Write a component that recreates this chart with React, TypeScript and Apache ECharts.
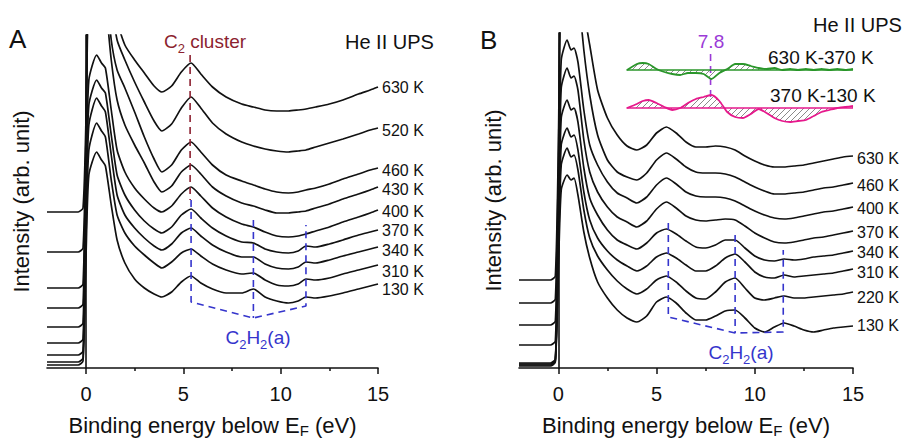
import React, { useEffect, useRef } from 'react';
import * as echarts from 'echarts';

const FONT = '"Liberation Sans", Arial, Helvetica, sans-serif';
const INK = '#111111';

// ---------- Panel A (He II UPS, temperature series) ----------
const ENERGY_A = [-2, -0.4, -0.15, 0, 0.15, 0.55, 0.8, 1.0, 1.3, 1.6, 2.0, 2.5, 3.0, 3.5, 3.9, 4.4, 4.9, 5.4, 5.9, 6.5, 7.2, 8.0, 8.6, 9.2, 9.8, 10.4, 10.9, 11.3, 11.8, 12.5, 13.2, 14.0, 14.6, 15];
const TEMPS_A = ['630 K', '520 K', '460 K', '430 K', '400 K', '370 K', '340 K', '310 K', '130 K'];
const A_630K = [156, 156, 160, 248, 428, 468, 468, 458, 428, 348, 323, 308, 295, 282, 276, 282, 296, 305, 294, 281, 271, 264, 261, 258, 257, 257, 258, 259, 261, 264, 268, 274, 278, 281];
const A_520K = [116, 116, 120, 228, 428, 468, 458, 428, 368, 328, 308, 286, 266, 247, 237, 244, 260, 271, 260, 245, 234, 226, 222, 219, 217, 216, 217, 218, 221, 225, 229, 234, 238, 240];
const A_460K = [80, 80, 84, 218, 408, 438, 428, 388, 328, 298, 280, 256, 231, 209, 196, 203, 218, 226, 216, 203, 193, 187, 183, 179, 176, 175, 176, 178, 180, 184, 189, 194, 198, 200];
const A_430K = [60, 60, 64, 208, 388, 408, 398, 368, 308, 268, 243, 223, 205, 186, 176, 182, 196, 203, 194, 181, 172, 165, 162, 158, 155, 155, 156, 157, 160, 164, 169, 174, 178, 181];
const A_400K = [41, 41, 45, 188, 288, 313, 305, 300, 258, 218, 196, 180, 169, 160, 156, 162, 174, 181, 172, 160, 151, 144, 141, 136, 132, 131, 132, 134, 137, 141, 146, 151, 155, 158];
const A_370K = [25, 25, 29, 168, 263, 288, 280, 275, 233, 193, 173, 158, 147, 139, 135, 141, 153, 159, 150, 140, 132, 126, 125, 119, 116, 115, 117, 122, 121, 124, 128, 133, 136, 138];
const A_340K = [13, 13, 17, 148, 243, 270, 262, 256, 213, 173, 153, 140, 130, 122, 118, 124, 135, 140, 132, 123, 116, 111, 111, 104, 100, 99, 101, 106, 105, 108, 112, 116, 119, 121];
const A_310K = [6, 6, 10, 128, 218, 245, 237, 231, 188, 153, 135, 122, 113, 105, 100, 106, 115, 119, 112, 104, 98, 94, 95, 88, 83, 82, 84, 89, 88, 90, 94, 98, 101, 103];
const A_130K = [3, 3, 7, 108, 193, 216, 208, 202, 163, 128, 105, 89, 80, 74, 71, 76, 86, 92, 85, 79, 75, 75, 79, 71, 67, 65, 67, 71, 70, 72, 75, 79, 82, 84];
const VALUES_A = [A_630K, A_520K, A_460K, A_430K, A_400K, A_370K, A_340K, A_310K, A_130K];
const LABEL_NUDGE_A = [0, 2, 2, 2, 1, 0, 3, 6, 5];

// guides in panel A (binding energy, intensity)
const A_C2_GUIDE = [[5.35, 313], [5.35, 168]];
const A_C2H2_GUIDE = [[5.4, 168], [5.4, 66], [8.6, 50], [11.3, 62], [11.3, 143]];
const A_C2H2_MID = [[8.6, 148], [8.6, 50]];

// ---------- Panel B ----------
const ENERGY_B = [-2, -0.4, -0.15, 0, 0.15, 0.45, 0.65, 0.8, 1.0, 1.3, 1.6, 2.0, 2.5, 3.0, 3.5, 4.0, 4.5, 5.0, 5.5, 6.0, 6.5, 7.0, 7.5, 8.0, 8.5, 9.0, 9.5, 10.0, 10.5, 11.0, 11.5, 12.0, 12.5, 13.0, 13.5, 14.0, 14.5, 15];
const TEMPS_B = ['630 K', '460 K', '400 K', '370 K', '340 K', '310 K', '220 K', '130 K'];
const B_630K = [88, 88, 92, 218, 418, 448, 448, 438, 408, 358, 323, 278, 250, 233, 222, 218, 223, 235, 241, 235, 226, 221, 221, 222, 221, 218, 212, 207, 203, 201, 201, 202, 203, 205, 207, 209, 211, 212];
const B_460K = [65, 65, 69, 198, 398, 428, 423, 413, 378, 318, 273, 233, 208, 196, 191, 188, 195, 208, 215, 209, 201, 196, 195, 195, 194, 191, 186, 181, 177, 174, 174, 175, 176, 178, 180, 181, 183, 185];
const B_400K = [43, 43, 47, 168, 308, 328, 318, 320, 306, 258, 223, 203, 186, 175, 170, 165, 171, 183, 190, 184, 176, 172, 171, 171, 170, 167, 162, 157, 153, 150, 149, 150, 152, 154, 156, 157, 159, 161];
const B_370K = [23, 23, 27, 148, 280, 300, 290, 292, 278, 228, 196, 176, 161, 151, 146, 141, 147, 159, 166, 160, 152, 148, 147, 148, 149, 148, 142, 135, 130, 126, 125, 126, 128, 130, 131, 133, 135, 137];
const B_340K = [5, 5, 9, 128, 250, 268, 258, 260, 246, 200, 170, 153, 138, 128, 123, 119, 125, 135, 139, 134, 127, 121, 120, 123, 128, 128, 120, 112, 108, 107, 109, 108, 109, 111, 112, 113, 115, 117];
const B_310K = [4, 4, 8, 118, 223, 240, 231, 233, 218, 176, 148, 130, 117, 108, 102, 97, 102, 111, 115, 110, 103, 97, 97, 102, 110, 114, 106, 96, 91, 90, 93, 91, 92, 93, 94, 95, 97, 99];
const B_220K = [3, 3, 7, 108, 203, 220, 211, 213, 198, 158, 130, 112, 98, 87, 79, 74, 79, 88, 92, 86, 77, 70, 69, 76, 86, 90, 80, 70, 68, 70, 72, 70, 70, 71, 72, 73, 74, 76];
const B_130K = [2, 2, 6, 93, 178, 193, 188, 190, 173, 136, 110, 86, 70, 58, 50, 46, 52, 66, 71, 65, 55, 48, 48, 52, 57, 58, 50, 40, 36, 41, 45, 42, 38, 36, 38, 40, 41, 42];
const VALUES_B = [B_630K, B_460K, B_400K, B_370K, B_340K, B_310K, B_220K, B_130K];
const LABEL_NUDGE_B = [2, 2, 1, 1, 1, 3, 5, -1];

// difference spectra (inset)
const ENERGY_DIFF = [3.5, 4.0, 4.3, 4.6, 5.0, 5.4, 5.8, 6.2, 6.6, 7.0, 7.4, 7.8, 8.2, 8.6, 9.0, 9.4, 9.8, 10.2, 10.6, 11.0, 11.4, 11.8, 12.2, 12.6, 13.0, 13.4, 13.8, 14.2, 14.6, 15.0];
const DIFF_630_370 = [298, 304, 305, 304, 299, 296, 294, 293, 295, 295, 294, 289, 295, 299, 304, 304, 302, 300, 299, 300, 298, 299, 298, 299, 298, 299, 298, 299, 298, 299];
const DIFF_370_130 = [260, 264, 267, 268, 265, 261, 258, 260, 265, 269, 271, 273, 267, 256, 251, 250, 254, 259, 255, 250, 247, 246, 247, 248, 252, 256, 258, 260, 261, 262];
const DIFF_630_370_ZERO = 298;
const DIFF_370_130_ZERO = 260;
const DIFF_RANGE = [3.47, 15];

const B_C2H2_GUIDE = [[5.6, 145], [5.6, 51], [9.0, 35], [11.45, 36], [11.45, 118]];
const B_C2H2_MID = [[9.0, 133], [9.0, 35]];
const B_PEAK_78 = [[7.75, 314], [7.75, 268]];

const X_MAJOR = [0, 5, 10, 15];
const X_MINOR = [2.5, 7.5, 12.5];

const RED = '#8c1f30';
const BLUE = '#3535cc';
const PURPLE = '#9a3ad6';
const GREEN = '#2a962a';
const MAGENTA = '#e6198c';

function spectrum(name: string, energies: number[], values: number[], xi: number, yi: number, nudge: number) {
  return {
    type: 'line',
    name,
    xAxisIndex: xi,
    yAxisIndex: yi,
    data: energies.map((e, i) => [e, values[i]]),
    symbol: 'none',
    smooth: 0.2,
    clip: true,
    silent: true,
    lineStyle: { color: INK, width: 1.7 },
    endLabel: {
      show: true,
      formatter: () => name,
      color: INK,
      fontSize: 16,
      lineHeight: 15,
      fontFamily: FONT,
      distance: 4,
      offset: [0, nudge],
    },
    z: 2,
  };
}

function guide(data: number[][], color: string, xi: number, yi: number) {
  return {
    type: 'line',
    data,
    xAxisIndex: xi,
    yAxisIndex: yi,
    symbol: 'none',
    silent: true,
    clip: false,
    lineStyle: { color, width: 1.6, type: [7, 5] },
    z: 3,
  };
}

const subRich = (color: string, size: number, lh = size + 8) => ({
  sub: { fontSize: Math.round(size * 0.68), fill: color, color, fontFamily: FONT, verticalAlign: 'bottom', lineHeight: lh },
  n: { fontSize: size, fill: color, color, fontFamily: FONT, lineHeight: lh },
});

function xAxisMain(grid: number) {
  return {
    gridIndex: grid,
    type: 'value',
    min: -2,
    max: 15,
    position: 'bottom',
    axisLine: { show: true, lineStyle: { color: INK, width: 1.6 } },
    axisTick: { show: true, customValues: X_MAJOR, length: 6, lineStyle: { color: INK, width: 1.5 } },
    axisLabel: { show: true, customValues: X_MAJOR, color: INK, fontSize: 20, fontFamily: FONT, margin: 16 },
    splitLine: { show: false },
    name: '{n|Binding energy below E}{sub|F}{n| (eV)}',
    nameLocation: 'middle',
    nameGap: 44,
    nameTextStyle: { color: INK, fontSize: 22, fontFamily: FONT, rich: subRich(INK, 22, 26) },
  };
}
function xAxisMinor(grid: number) {
  return {
    gridIndex: grid,
    type: 'value',
    min: -2,
    max: 15,
    position: 'bottom',
    axisLine: { show: false },
    axisTick: { show: true, customValues: X_MINOR, length: 3, lineStyle: { color: INK, width: 1.5 } },
    axisLabel: { show: false },
    splitLine: { show: false },
  };
}
function yAxisPanel(grid: number, max: number) {
  return {
    gridIndex: grid,
    type: 'value',
    min: 0,
    max,
    axisLine: { show: true, lineStyle: { color: INK, width: 1.6 } },
    axisTick: { show: false },
    axisLabel: { show: false },
    splitLine: { show: false },
    name: 'Intensity (arb. unit)',
    nameLocation: 'middle',
    nameGap: 15,
    nameTextStyle: { color: INK, fontSize: 22, fontFamily: FONT },
  };
}

function textEl(text: string, x: number, y: number, size: number, color: string, align = 'left', rich?: any) {
  return {
    type: 'text',
    x,
    y,
    silent: true,
    style: { text, fontSize: size, fontFamily: FONT, fill: color, align, verticalAlign: 'middle', rich },
  };
}

export default function App() {
  const ref = useRef<HTMLDivElement>(null);
  useEffect(() => {
    document.body.style.margin = '0';
    if (!ref.current) return;
    const chart = echarts.init(ref.current, undefined, { renderer: 'svg' });

    const hatch = document.createElement('canvas');
    hatch.width = 6;
    hatch.height = 6;
    const ctx = hatch.getContext('2d');
    if (ctx) {
      ctx.strokeStyle = '#8a8a8a';
      ctx.lineWidth = 1;
      ctx.beginPath();
      ctx.moveTo(0, 6);
      ctx.lineTo(6, 0);
      ctx.stroke();
    }
    const hatchFill: any = { image: hatch, repeat: 'repeat' };

    const series: any[] = [];
    TEMPS_A.forEach((t, i) => series.push(spectrum(t, ENERGY_A, VALUES_A[i], 0, 0, LABEL_NUDGE_A[i])));
    TEMPS_B.forEach((t, i) => series.push(spectrum(t, ENERGY_B, VALUES_B[i], 2, 1, LABEL_NUDGE_B[i])));

    series.push(guide(A_C2_GUIDE, RED, 0, 0));
    series.push(guide(A_C2H2_GUIDE, BLUE, 0, 0));
    series.push(guide(A_C2H2_MID, BLUE, 0, 0));
    series.push(guide(B_C2H2_GUIDE, BLUE, 2, 1));
    series.push(guide(B_C2H2_MID, BLUE, 2, 1));

    const diff = (vals: number[], zero: number, color: string) => [
      {
        type: 'line',
        xAxisIndex: 2,
        yAxisIndex: 1,
        data: ENERGY_DIFF.map((e, i) => [e, vals[i]]),
        symbol: 'none',
        smooth: 0.2,
        silent: true,
        lineStyle: { color, width: 1.8 },
        areaStyle: { color: hatchFill, origin: zero, opacity: 1 },
        z: 4,
      },
      {
        type: 'line',
        xAxisIndex: 2,
        yAxisIndex: 1,
        data: DIFF_RANGE.map((e) => [e, zero]),
        symbol: 'none',
        silent: true,
        lineStyle: { color, width: 1.6 },
        z: 4,
      },
    ];
    series.push(...diff(DIFF_630_370, DIFF_630_370_ZERO, GREEN));
    series.push(...diff(DIFF_370_130, DIFF_370_130_ZERO, MAGENTA));
    series.push(guide(B_PEAK_78, PURPLE, 2, 1));

    chart.setOption({
      animation: false,
      grid: [
        { left: 47, top: 35, width: 331, height: 333, containLabel: false, outerBoundsMode: 'none' },
        { left: 519, top: 33, width: 334, height: 335, containLabel: false, outerBoundsMode: 'none' },
      ],
      xAxis: [xAxisMain(0), xAxisMinor(0), xAxisMain(1), xAxisMinor(1)],
      yAxis: [yAxisPanel(0, 333), yAxisPanel(1, 335)],
      series,
      graphic: [
        { type: 'text', x: 9, y: 26, silent: true, style: { text: 'A', fontSize: 26, fontFamily: FONT, fill: INK } },
        { type: 'text', x: 480, y: 27, silent: true, style: { text: 'B', fontSize: 26, fontFamily: FONT, fill: INK } },
        textEl('{n|C}{sub|2}{n| cluster}', 205, 41, 19, RED, 'center', subRich(RED, 19)),
        textEl('He II UPS', 345, 42, 20, INK),
        textEl('He II UPS', 813, 25, 20, INK),
        textEl('{n|C}{sub|2}{n|H}{sub|2}{n|(a)}', 258, 337, 19, BLUE, 'center', subRich(BLUE, 19)),
        textEl('{n|C}{sub|2}{n|H}{sub|2}{n|(a)}', 741, 352, 19, BLUE, 'center', subRich(BLUE, 19)),
        textEl('7.8', 711, 41, 19, PURPLE, 'center'),
        textEl('630 K-370 K', 768, 57, 19, INK),
        textEl('370 K-130 K', 770, 95, 19, INK),
      ],
    });
    return () => chart.dispose();
  }, []);
  return <div ref={ref} style={{ width: 914, height: 440 }} />;
}
